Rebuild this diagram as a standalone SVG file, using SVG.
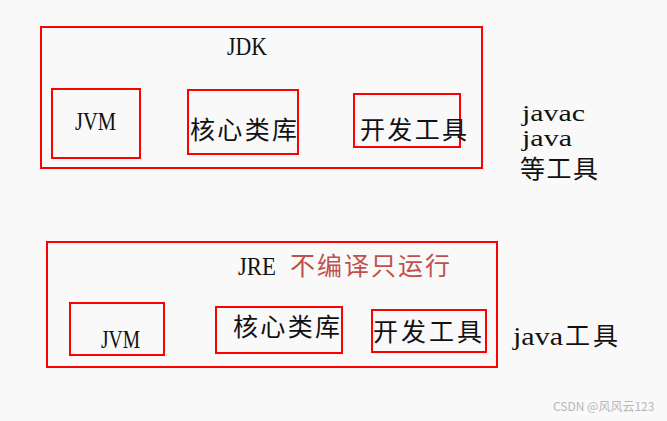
<svg xmlns="http://www.w3.org/2000/svg" width="667" height="421" viewBox="0 0 667 421">
<style>
.box{fill:none;stroke:#ff0000;stroke-width:2}
.lat{font-family:"Liberation Serif","DejaVu Serif",serif;font-size:26px;fill:#111}
.sm{font-size:24px}
.cjk{font-family:"Noto Sans CJK SC","Noto Sans CJK JP",sans-serif;font-size:25px;fill:#111}
.note{fill:#c0504d}
.wm{font-family:"Noto Sans CJK SC","Liberation Sans",sans-serif;font-size:12px;fill:#b8b8b8}
</style>
<rect width="667" height="421" fill="#f9f9f9"/>
<g id="jdk">
<rect class="box" x="41" y="27" width="441" height="141"/>
<text class="lat" x="227" y="55" textLength="40" lengthAdjust="spacingAndGlyphs">JDK</text>
</g>
<g id="jdk-jvm">
<rect class="box" x="52" y="89" width="88" height="69"/>
<text class="lat" x="75" y="130" textLength="41" lengthAdjust="spacingAndGlyphs">JVM</text>
</g>
<g id="jdk-lib">
<rect class="box" x="188" y="90" width="110" height="64"/>
<text class="cjk" x="190" y="139" textLength="107">核心类库</text>
</g>
<g id="jdk-tools">
<rect class="box" x="354" y="94" width="106" height="53"/>
<text class="cjk" x="360" y="139" textLength="107">开发工具</text>
</g>
<g id="jdk-note">
<text class="lat sm" x="522" y="121" textLength="63" lengthAdjust="spacingAndGlyphs">javac</text>
<text class="lat sm" x="522" y="146" textLength="50" lengthAdjust="spacingAndGlyphs">java</text>
<text class="cjk" x="520" y="178" textLength="78">等工具</text>
</g>
<g id="jre">
<rect class="box" x="47" y="242" width="450" height="125"/>
<text class="lat" x="238" y="275" textLength="38" lengthAdjust="spacingAndGlyphs">JRE</text>
<text class="cjk note" x="290" y="275" textLength="160">不编译只运行</text>
</g>
<g id="jre-jvm">
<rect class="box" x="70" y="303" width="94" height="52"/>
<text class="lat" x="101" y="348" textLength="39" lengthAdjust="spacingAndGlyphs">JVM</text>
</g>
<g id="jre-lib">
<rect class="box" x="216" y="307" width="126" height="46"/>
<text class="cjk" x="233" y="336" textLength="107">核心类库</text>
</g>
<g id="jre-tools">
<rect class="box" x="372" y="310" width="114" height="42"/>
<text class="cjk" x="373" y="341" textLength="109">开发工具</text>
</g>
<g id="jre-note">
<text class="lat" x="513" y="345" textLength="50" lengthAdjust="spacingAndGlyphs">java</text>
<text class="cjk" x="565" y="345" textLength="53">工具</text>
</g>
<g id="connectors"></g>
<text class="wm" x="553" y="411">CSDN @风风云123</text>
</svg>
